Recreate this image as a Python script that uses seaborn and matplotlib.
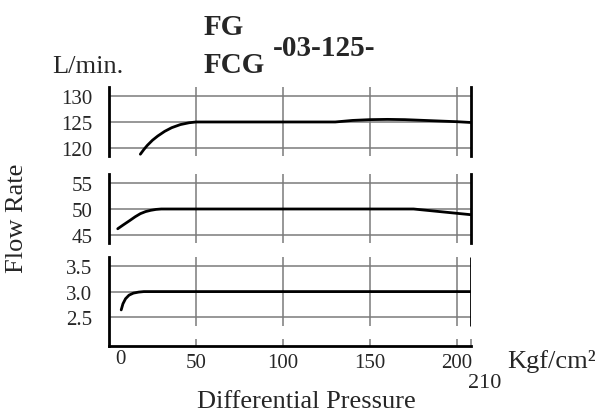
import numpy as np
import pandas as pd
import matplotlib
matplotlib.use("Agg")
import matplotlib.pyplot as plt
import matplotlib.transforms as mtransforms
import seaborn as sns

# ---- data ----
pressure_ticks = [0, 50, 100, 150, 200]
x_max = 208

top_x = [18, 20, 22, 25, 28, 32, 36, 41, 46, 50, 130, 140, 150, 160, 170, 185, 200, 208]
top_y = [118.8, 119.7, 120.5, 121.5, 122.3, 123.2, 123.9, 124.5, 124.85, 125.0, 125.0, 125.3, 125.45, 125.5, 125.45, 125.25, 125.05, 124.9]
top_ticks = [120, 125, 130]
top_lim = (118.46, 131.73)

mid_x = [5, 8, 12, 15, 18, 21, 24, 27, 30, 175, 190, 208]
mid_y = [46.2, 46.9, 47.8, 48.5, 49.1, 49.5, 49.75, 49.92, 50.0, 50.0, 49.5, 48.9]
mid_ticks = [45, 50, 55]
mid_lim = (43.46, 56.73)

bot_x = [7, 8, 9.5, 11.5, 14, 17, 20, 208]
bot_y = [2.64, 2.76, 2.86, 2.93, 2.97, 2.99, 3.0, 3.0]
bot_ticks = [2.5, 3.0, 3.5]
bot_tick_labels = ["2.5", "3.0", "3.5"]
bot_lim = (1.93, 3.68)

sns.set_style("white")
plt.rcParams["font.family"] = ["Liberation Serif", "DejaVu Serif"]

fig = plt.figure(figsize=(6, 4.14), dpi=100)
L, W = 0.1817, 0.6033
ax_top = fig.add_axes([L, 0.6208, W, 0.1667])
ax_mid = fig.add_axes([L, 0.4106, W, 0.1667])
ax_bot = fig.add_axes([L, 0.1618, W, 0.2150])

GRID = "#7a7a7a"

def style(ax, ticks, lim, labels=None, full_grid=True):
    ax.set_xlim(0, x_max)
    ax.set_ylim(*lim)
    ax.set_yticks(ticks)
    if labels is not None:
        ax.set_yticklabels(labels)
    ax.tick_params(axis="y", length=0, pad=12, labelsize=15)
    for t in ticks:
        ax.axhline(t, color=GRID, lw=1.1, zorder=1)
    for s in ["top", "bottom"]:
        ax.spines[s].set_visible(False)
    ax.spines["left"].set_color("black")
    ax.spines["left"].set_linewidth(2)
    if full_grid:
        ax.spines["right"].set_color("black")
        ax.spines["right"].set_linewidth(2)
        for x in pressure_ticks[1:]:
            ax.axvline(x, color=GRID, lw=1.1, zorder=1)
        ax.set_xticks([])
    ax.set_xlabel("")
    ax.set_ylabel("")

def draw(ax, xs, ys):
    df = pd.DataFrame({"p": xs, "q": ys})
    sns.lineplot(data=df, x="p", y="q", ax=ax, color="black", lw=2, zorder=3)

draw(ax_top, top_x, top_y)
draw(ax_mid, mid_x, mid_y)
draw(ax_bot, bot_x, bot_y)

style(ax_top, top_ticks, top_lim)
style(ax_mid, mid_ticks, mid_lim)
style(ax_bot, bot_ticks, bot_lim, labels=bot_tick_labels, full_grid=False)

# bottom panel: grid stops above the axis, short inward ticks at the axis
ax_bot.spines["right"].set_visible(False)
ax_bot.spines["bottom"].set_visible(True)
ax_bot.spines["bottom"].set_color("black")
ax_bot.spines["bottom"].set_linewidth(2)
gbot = 2.32
ax_bot.vlines(pressure_ticks[1:], gbot, bot_lim[1], color=GRID, lw=1.1, zorder=1)
ax_bot.vlines([x_max], gbot, bot_lim[1], color="black", lw=2, zorder=2)
ax_bot.set_xticks(pressure_ticks[1:] + [x_max])
ax_bot.set_xticklabels([str(v) for v in pressure_ticks[1:]] + [""])
ax_bot.tick_params(axis="x", direction="in", length=5, width=1.1, color=GRID,
                   bottom=True, pad=5, labelsize=15)
trans = mtransforms.blended_transform_factory(ax_bot.transData, ax_bot.transAxes)
ax_bot.text(6.3, -0.03, str(pressure_ticks[0]), transform=trans, ha="center", va="top",
            fontsize=15)

# texts
fig.text(0.34, 0.9155, "FG", fontsize=21, fontweight="bold", va="baseline", ha="left")
fig.text(0.34, 0.8237, "FCG", fontsize=21, fontweight="bold", va="baseline", ha="left")
fig.text(0.455, 0.8647, "-03-125-", fontsize=21, fontweight="bold", va="baseline", ha="left")
fig.text(0.0867, 0.8237, "L/min.", fontsize=19, va="baseline", ha="left")
fig.text(0.0283, 0.4734, "Flow Rate", fontsize=19, rotation=90, va="center", ha="center")
fig.text(0.3283, 0.0145, "Differential Pressure", fontsize=19, va="baseline", ha="left")
fig.text(0.845, 0.111, "Kgf/cm²", fontsize=19, va="baseline", ha="left")
fig.text(0.78, 0.063, "210", fontsize=16, va="baseline", ha="left")

fig.savefig("out.png", dpi=100)
